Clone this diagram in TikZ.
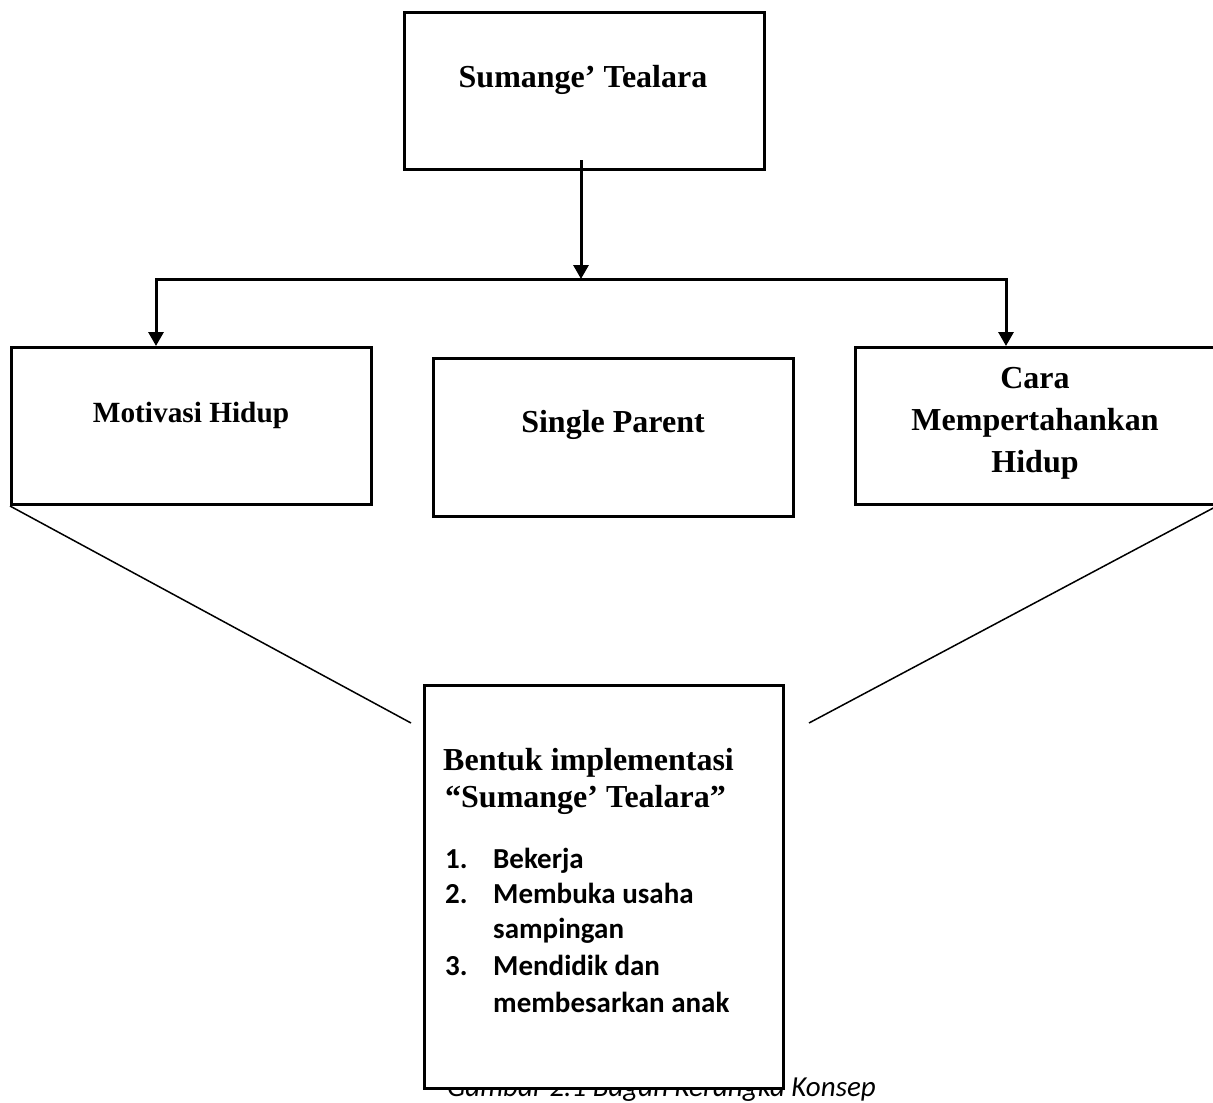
\documentclass[tikz,border=0pt]{standalone}
\usepackage{fontspec}
\setmainfont{Liberation Serif}
\newfontfamily\calfont{Carlito}
\usetikzlibrary{arrows.meta}
\begin{document}
\begin{tikzpicture}[x=1pt,y=-1pt,
  box/.style={draw,line width=3pt,fill=white,inner sep=0pt,minimum width=360pt},
  ttl/.style={font=\bfseries\fontsize{32}{38}\selectfont,inner sep=0pt,anchor=base},
  hd/.style={font=\bfseries\fontsize{32}{38}\selectfont,inner sep=0pt,anchor=base west},
  lst/.style={font=\calfont\bfseries\fontsize{29}{36}\selectfont,inner sep=0pt,anchor=base west},
  conn/.style={line width=3pt},
  tipstyle/.tip={Triangle[length=14pt,width=15pt]},
  arr/.style={conn,-tipstyle},
  thinline/.style={line width=1.5pt}]
\useasboundingbox (0,0) rectangle (1213,1103);
\clip (0,0) rectangle (1213,1103);
\fill[white] (0,0) rectangle (1213,1103);

% caption (partly hidden behind the bottom box)
\node[font=\calfont\itshape\fontsize{29}{35}\selectfont,inner sep=0pt,anchor=base east] (cap) at (876,1096) {Gambar 2.1 Bagan Kerangka Konsep};

% boxes
\node[box,minimum height=157pt] (top) at (584.5,91) {};
\node[box,minimum height=157pt] (left) at (191.5,426) {};
\node[box,minimum height=158pt] (mid) at (613.5,437.5) {};
\node[box,minimum height=157pt] (right) at (1035.5,426) {};

% texts
\node[ttl] (ttop) at (583,87) {Sumange’ Tealara};
\node[ttl,font=\bfseries\fontsize{29.3}{35}\selectfont] (tleft) at (191,422) {Motivasi Hidup};
\node[ttl] (tmid) at (613,432) {Single Parent};
\node[ttl] (tr1) at (1035,388) {Cara};
\node[ttl] (tr2) at (1035,430) {Mempertahankan};
\node[ttl] (tr3) at (1035,472) {Hidup};

% connectors
\coordinate (s0) at (581,160);
\coordinate (jc) at (581,279);
\coordinate (jl) at (156,279);
\coordinate (jr) at (1006,279);
\draw[arr] (s0) -- (jc);
\draw[conn,line join=miter,tipstyle-tipstyle] (jl |- left.north) -- (jl) -- (jr) -- (jr |- right.north);

\coordinate (dl) at (411,723);
\coordinate (dr) at (809,723);
\draw[thinline] (left.south west) -- (dl);
\draw[thinline] (right.south east) -- (dr);

% bottom box
\node[box,minimum width=359pt,minimum height=403pt] (bot) at (603.5,886.5) {};
\node[hd] (b1) at (443,770) {Bentuk implementasi};
\node[hd] (b2) at (445,807) {“Sumange’ Tealara”};
\node[lst] (n1) at (445,868) {1.};
\node[lst] (l1) at (493,868) {Bekerja};
\node[lst] (n2) at (445,903) {2.};
\node[lst] (l2) at (493,903) {Membuka usaha};
\node[lst] (l3) at (493,938) {sampingan};
\node[lst] (n3) at (445,975) {3.};
\node[lst] (l4) at (493,975) {Mendidik dan};
\node[lst] (l5) at (493,1012) {membesarkan anak};
\end{tikzpicture}
\end{document}
